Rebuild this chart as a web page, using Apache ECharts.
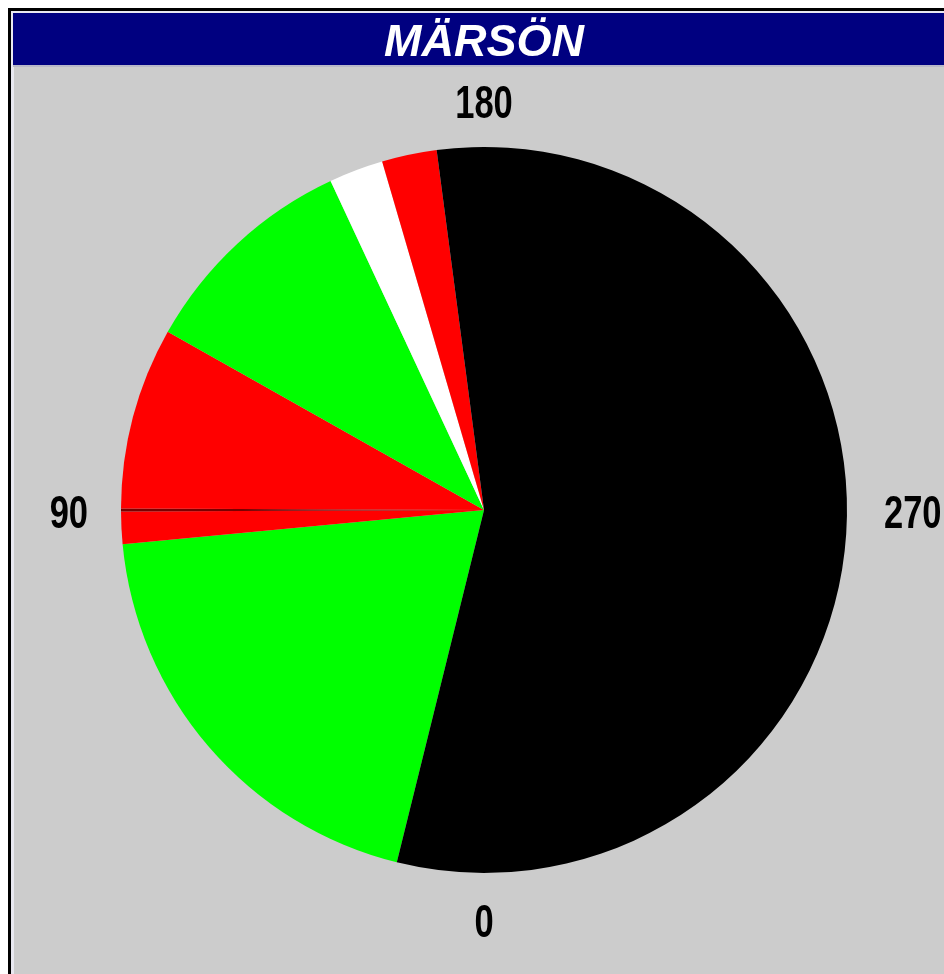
<!DOCTYPE html>
<html>
<head>
<meta charset="utf-8">
<style>
html,body{margin:0;padding:0;background:#fff;}
#chart{width:944px;height:974px;}
</style>
<script src="https://cdn.jsdelivr.net/npm/echarts@6/dist/echarts.min.js"></script>
</head>
<body>
<div id="chart"></div>
<script>
// ---- data ----
const titleText = 'MÄRSÖN';
const sliceNames = ['grön 1', 'röd 1', 'gräns', 'röd 2', 'grön 2', 'vit', 'röd 3', 'svart'];
const sliceValues = [70.7, 5.15, 0.5, 29.15, 35.6, 8.7, 8.8, 201.4];   // degrees of the circle
const angleTicks = [0, 90, 180, 270];
const angleTickLabels = ['0', '90', '180', '270'];
const startOffset = 13.9; // degrees clockwise from the bottom where the first slice begins

// ---- styles ----
const sliceColors = ['#00ff00', '#ff0000', '#7a0000', '#ff0000', '#00ff00', '#ffffff', '#ff0000', '#000000'];
const CX = 484, CY = 510, R = 363;
const labelFont = "bold 46px 'Liberation Sans', Arial, sans-serif";

const chart = echarts.init(document.getElementById('chart'), null, {renderer: 'canvas'});
chart.setOption({
  backgroundColor: '#ffffff',
  animation: false,
  graphic: [
    {id: 'f0', type: 'rect', z: -10, silent: true, shape: {x: 8, y: 8, width: 1000, height: 1000}, style: {fill: '#000000'}},
    {id: 'f1', type: 'rect', z: -9, silent: true, shape: {x: 11, y: 11, width: 1000, height: 1000}, style: {fill: '#e8e8f0'}},
    {id: 'f2', type: 'rect', z: -8, silent: true, shape: {x: 13, y: 13, width: 1000, height: 52}, style: {fill: '#000080'}},
    {id: 'f3', type: 'rect', z: -8, silent: true, shape: {x: 13, y: 65, width: 1000, height: 2}, style: {fill: '#b8b8c8'}},
    {id: 'f4', type: 'rect', z: -8, silent: true, shape: {x: 14, y: 67, width: 1000, height: 1000}, style: {fill: '#cccccc'}},
    {id: 'title', type: 'text', z: 10, silent: true, x: CX, y: 66,
      style: {text: titleText, fill: '#ffffff', font: "italic bold 45px 'Liberation Sans', Arial, sans-serif",
        textAlign: 'center', textVerticalAlign: 'bottom'}}
  ],
  polar: {center: [CX, CY], radius: R},
  angleAxis: {
    type: 'value', min: 0, max: 360, interval: 90,
    startAngle: 270, clockwise: true,
    axisLine: {show: false}, axisTick: {show: false}, splitLine: {show: false},
    axisLabel: {show: false}
  },
  radiusAxis: {show: false, min: 0, max: 1},
  series: [{
    type: 'pie',
    center: [CX, CY], radius: R,
    startAngle: 270 - startOffset, clockwise: true,
    label: {show: false}, labelLine: {show: false},
    emphasis: {disabled: true, scale: false},
    itemStyle: {borderWidth: 0},
    data: sliceNames.map((n, i) => ({name: n, value: sliceValues[i], itemStyle: {color: sliceColors[i]}}))
  }]
});

// Compass labels placed through the polar axis (narrowed glyphs like the original)
const GAP_L = 33, GAP_R = 37, GAP_V = 30, HALF_H = 16.5, SHIFT_Y = 5;
const labelGraphics = angleTicks.map((a, i) => {
  const p = chart.convertToPixel({polarIndex: 0}, [1, a]);
  const dx = p[0] - CX, dy = p[1] - CY;
  let x = p[0], y = p[1] + SHIFT_Y, align = 'center';
  if (Math.abs(dx) > Math.abs(dy)) {
    if (dx < 0) { x -= GAP_L; align = 'right'; } else { x += GAP_R; align = 'left'; }
  } else {
    if (dy < 0) { y -= GAP_V + HALF_H; } else { y += GAP_V + HALF_H; }
  }
  return {id: 'lab' + i, type: 'text', z: 10, silent: true, x: x, y: y, scaleX: 0.75,
    style: {text: angleTickLabels[i], fill: '#000', font: labelFont, textAlign: align, textVerticalAlign: 'middle'}};
});
chart.setOption({graphic: labelGraphics});
</script>
</body>
</html>
